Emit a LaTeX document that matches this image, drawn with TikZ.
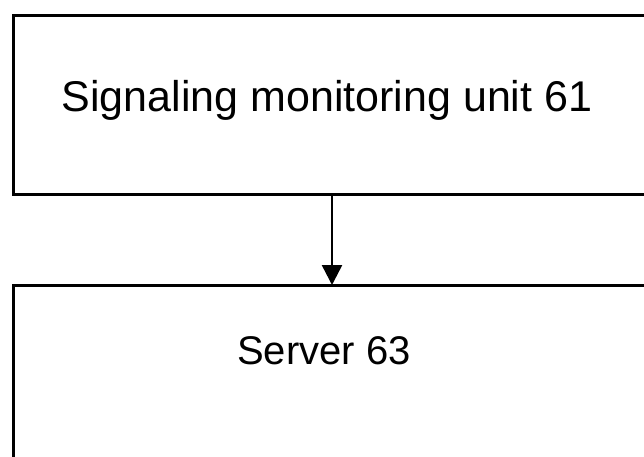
\documentclass[tikz,border=0pt]{standalone}
\usepackage{fontspec}
\setmainfont{Liberation Sans}
\usetikzlibrary{arrows.meta}
\begin{document}
\begin{tikzpicture}[x=1pt,y=-1pt,
  box/.style={draw=black,line width=3pt,rectangle,inner sep=0pt,anchor=north west},
  lbl/.style={anchor=base,inner sep=0pt},
  conn/.style={line width=2.5pt,-{Triangle[width=20pt,length=20pt]}}]
\useasboundingbox (0,0) rectangle (644,456);
\clip (0,0) rectangle (644,456);
\node[box,minimum width=660pt,minimum height=179pt] (b1) at (11.5,13.5) {};
\node[box,minimum width=660pt,minimum height=200pt] (b2) at (11.5,283.5) {};
\node[lbl,font=\fontsize{43}{50}\selectfont] (t1) at (327,111) {Signaling monitoring unit 61};
\node[lbl,font=\fontsize{40}{48}\selectfont] (t2) at (324,364) {Server 63};
\coordinate (ax) at (332,0);
\draw[conn] (b1.south -| ax) -- ([yshift=-1.5pt]b2.north -| ax);
\end{tikzpicture}
\end{document}
